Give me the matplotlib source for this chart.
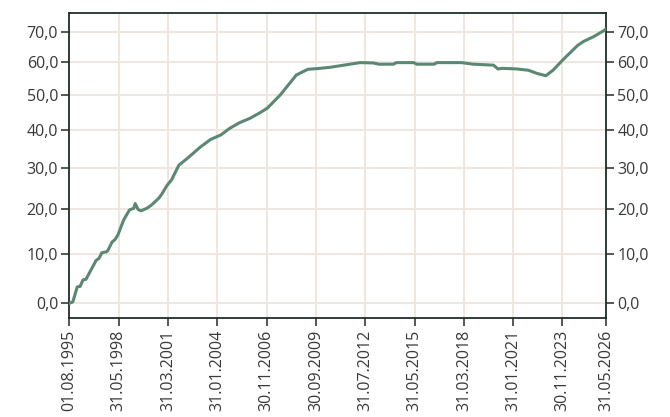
import numpy as np
import pandas as pd
import matplotlib
matplotlib.use('Agg')
import matplotlib.pyplot as plt

# data (month, value)
dates = ['1995-08', '1995-10', '1996-01', '1996-03', '1996-05', '1996-07', '1996-09',
         '1997-02', '1997-04', '1997-06', '1997-09', '1997-10', '1998-01', '1998-03',
         '1998-05', '1998-09', '1999-01', '1999-04', '1999-05', '1999-07', '1999-09',
         '2000-01', '2000-04', '2000-09', '2000-11', '2001-03', '2001-06', '2001-11',
         '2002-05', '2003-02', '2003-09', '2004-04', '2004-10', '2005-05', '2005-12',
         '2006-07', '2006-12', '2007-09', '2008-08', '2008-11', '2009-04', '2009-10',
         '2010-07', '2011-02', '2011-09', '2012-04', '2013-01', '2013-05', '2014-03',
         '2014-05', '2015-05', '2015-07', '2016-07', '2016-09', '2018-02', '2018-10',
         '2019-12', '2020-03', '2020-06', '2021-04', '2021-12', '2022-06', '2022-12',
         '2023-05', '2023-12', '2024-10', '2025-02', '2025-09', '2026-04', '2026-05']
values = [0.0, 0.3, 3.2, 3.3, 4.6, 4.7, 5.8,
          8.6, 9.0, 10.2, 10.4, 10.6, 12.5, 13.0,
          14.0, 17.4, 19.7, 20.1, 21.2, 19.8, 19.5,
          20.1, 20.8, 22.4, 23.3, 25.6, 26.9, 30.6,
          32.4, 35.4, 37.4, 38.6, 40.4, 42.0, 43.2,
          44.8, 46.1, 50.0, 56.0, 56.7, 57.8, 58.0,
          58.4, 58.9, 59.4, 59.9, 59.8, 59.4, 59.4,
          59.9, 59.9, 59.4, 59.4, 59.9, 59.9, 59.4,
          59.1, 57.9, 58.1, 57.9, 57.5, 56.5, 55.8,
          57.5, 60.9, 65.5, 66.8, 68.4, 70.4, 70.8]

tick_labels = ['01.08.1995', '31.05.1998', '31.03.2001', '31.01.2004', '30.11.2006',
               '30.09.2009', '31.07.2012', '31.05.2015', '31.03.2018', '31.01.2021',
               '30.11.2023', '31.05.2026']
y_ticks = [0, 10, 20, 30, 40, 50, 60, 70]

plt.rcParams['font.family'] = ['Open Sans', 'DejaVu Sans']

x = pd.to_datetime(dates) + pd.Timedelta(days=14)
x = x.insert(0, pd.Timestamp('1995-08-01')).delete(1)
tick_pos = pd.to_datetime(tick_labels, format='%d.%m.%Y')

# y axis looks like a log(v + 90) scale
c = 90.0
fwd = lambda v: np.log(np.maximum(v + c, 1e-6))
inv = lambda u: np.exp(u) - c

fig = plt.figure(figsize=(6.7, 4.17), dpi=100)
ax = fig.add_axes([0.1034, 0.2367, 0.8011, 0.7313])
ax.set_yscale('function', functions=(fwd, inv))

ax.plot(x, values, color='#5a8873', lw=2.2, solid_joinstyle='round', zorder=3)

ax.set_xlim(pd.Timestamp('1995-08-01'), pd.Timestamp('2026-05-31'))
ax.set_ylim(-2.8, 76.4)
ax.set_xticks(tick_pos)
ax.set_xticklabels(tick_labels, rotation=90, va='top', ha='center')
ax.set_yticks(y_ticks)
ax.set_yticklabels([f'{v:.1f}'.replace('.', ',') for v in y_ticks])
ax.yaxis.set_minor_locator(matplotlib.ticker.NullLocator())

ax.grid(True, color='#efe6e0', lw=1.4, zorder=0)
for s in ax.spines.values():
    s.set_color('#1f2d27')
    s.set_linewidth(1.3)
ax.tick_params(axis='both', length=5.5, width=1.1, color='#1f2d27',
               labelsize=11.5, labelcolor='#383838', pad=2.5)
ax.tick_params(axis='y', right=True, labelright=True)

fig.savefig('out.png', dpi=100)
